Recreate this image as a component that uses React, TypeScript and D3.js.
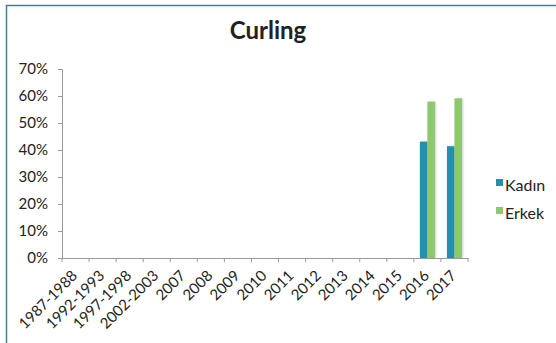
import React, { useEffect, useRef } from "react";
import * as d3 from "d3";

const categories = ["1987-1988","1992-1993","1997-1998","2002-2003","2007","2008","2009","2010","2011","2012","2013","2014","2015","2016","2017"];
const kadin: (number | null)[] = [null,null,null,null,null,null,null,null,null,null,null,null,null,0.431,0.414];
const erkek: (number | null)[] = [null,null,null,null,null,null,null,null,null,null,null,null,null,0.579,0.591];
const seriesNames = ["Kadın", "Erkek"];
const seriesColors = ["#2390ad", "#8dc86e"];
const yTicks = [0, 0.1, 0.2, 0.3, 0.4, 0.5, 0.6, 0.7];
const title = "Curling";

const W = 556, H = 343;
const font = "Lato, 'Open Sans', sans-serif";

export default function App() {
  const ref = useRef<SVGSVGElement>(null);
  useEffect(() => {
    const svg = d3.select(ref.current);
    svg.selectAll("*").remove();

    // frame
    svg.append("path").attr("d", `M6.5,${H + 5} L6.5,5.5 L${W + 5},5.5`).attr("fill", "none").attr("stroke", "#4b7a94").attr("stroke-width", 1.5);

    const left = 62, right = 468, top = 69, bottom = 258;
    const x = d3.scaleBand<string>().domain(categories).range([left, right]).paddingInner(0).paddingOuter(0);
    const y = d3.scaleLinear().domain([0, 0.7]).range([bottom, top]);
    const sub = d3.scaleBand<number>().domain([0, 1]).range([0, x.bandwidth()]).paddingInner(0).paddingOuter(0.8);

    svg.append("text").attr("x", 268).attr("y", 39).attr("text-anchor", "middle")
      .attr("font-family", font).attr("font-weight", 700).attr("font-size", 24).attr("fill", "#222").text(title);

    const gy = svg.append("g").attr("transform", `translate(${left},0)`)
      .call(d3.axisLeft(y).tickValues(yTicks).tickFormat(d3.format(".0%")).tickSizeOuter(0).tickSize(4));
    gy.select(".domain").attr("stroke", "#999");
    gy.selectAll(".tick line").attr("stroke", "#999");
    gy.selectAll("text").attr("font-family", font).attr("font-size", 15).attr("fill", "#222").attr("x", -14);

    const data = [kadin, erkek];
    data.forEach((arr, si) => {
      svg.append("g").selectAll("rect").data(categories.map((c, i) => ({ c, v: arr[i] })).filter(d => d.v != null))
        .join("rect")
        .attr("x", d => (x(d.c) as number) + (sub(si) as number))
        .attr("y", d => y(d.v as number))
        .attr("width", sub.bandwidth())
        .attr("height", d => bottom - y(d.v as number))
        .attr("fill", seriesColors[si])
        .style("filter", "drop-shadow(1px 0px 1px rgba(0,0,0,0.2))");
    });

    const gx = svg.append("g").attr("transform", `translate(0,${bottom})`)
      .call(d3.axisBottom(x).tickSize(0).tickSizeOuter(0));
    gx.select(".domain").attr("stroke", "#999");
    gx.selectAll(".tick text")
      .attr("font-family", font).attr("font-size", 15).attr("fill", "#222")
      .attr("text-anchor", "end").attr("dy", "0.35em")
      .attr("transform", "translate(-1,15) rotate(-45)")
      .attr("y", 0).attr("x", 0);
    // tick marks at band boundaries
    const bounds = categories.map(c => x(c) as number).concat([right]);
    svg.append("g").selectAll("line").data(bounds).join("line")
      .attr("x1", d => d).attr("x2", d => d).attr("y1", bottom).attr("y2", bottom + 4)
      .attr("stroke", "#999");

    const lg = svg.append("g");
    seriesNames.forEach((n, i) => {
      const yy = 186 + i * 28;
      lg.append("rect").attr("x", 496).attr("y", yy - 7).attr("width", 7).attr("height", 7).attr("fill", seriesColors[i]);
      lg.append("text").attr("x", 505).attr("y", yy + 5).attr("font-family", font).attr("font-size", 16).attr("fill", "#222").text(n);
    });
  }, []);
  return <svg ref={ref} width={W} height={H} style={{ position: "absolute", left: 0, top: 0, background: "#fff" }} />;
}
